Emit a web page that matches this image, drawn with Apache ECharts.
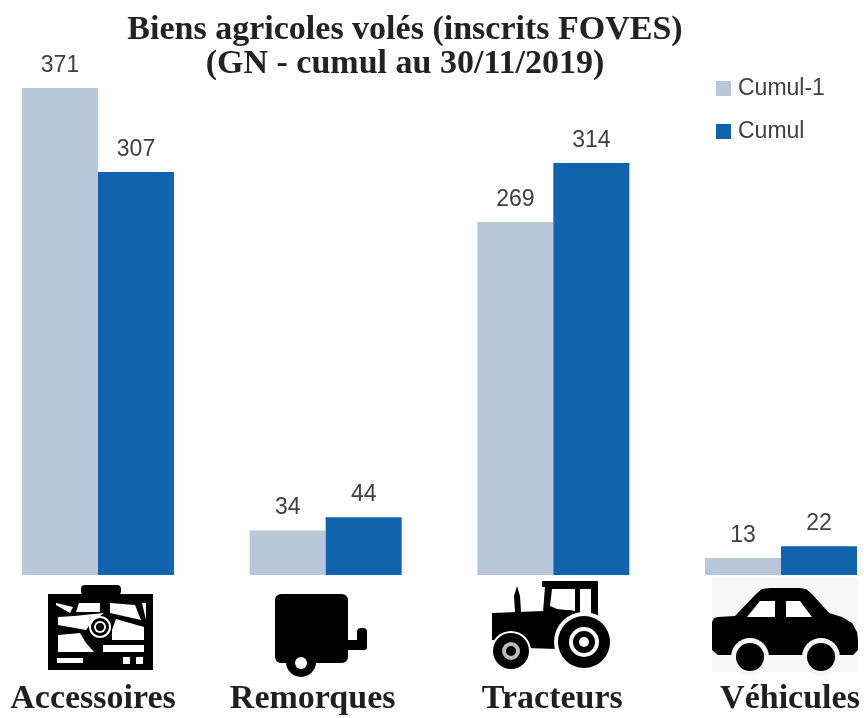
<!DOCTYPE html>
<html><head><meta charset="utf-8">
<style>html,body{margin:0;padding:0;background:#fff}#c{width:864px;height:718px;filter:blur(0.6px)}</style>
<script src="https://cdn.jsdelivr.net/npm/echarts@6/dist/echarts.min.js"></script>
</head><body><div id="c"></div>
<script>
const categories = ['Accessoires','Remorques','Tracteurs','Véhicules'];
const cumulPrev = [371,34,269,13];
const cumul = [307,44,314,22];
const titleLines = 'Biens agricoles volés (inscrits FOVES)\n(GN - cumul au 30/11/2019)';
const seriesNames = ['Cumul-1','Cumul'];
const labelPadding = [[0,10,0,0],[0,26,0,0],[0,2,0,0],[0,0,0,18]];
const K='#000', W='#fff', G='#f7f7f7';
const p=(points,fill)=>({type:'polygon',shape:{points},style:{fill:fill||K},silent:true});
const c=(cx,cy,r,fill)=>({type:'circle',shape:{cx,cy,r},style:{fill:fill||K},silent:true});
const r=(x,y,width,height,fill,rad)=>({type:'rect',shape:{x,y,width,height,r:rad||0},style:{fill:fill||K},silent:true});
const icons=[
 // map / GPS
 r(81,585,40,10,K,4), r(48,594,105,76),
 p([[56,603],[73,607],[70,613],[56,605]],W),
 p([[79,603],[100,603],[100,612],[76,612]],W),
 p([[110,603],[135,605],[141,620],[110,613]],W),
 p([[142,603],[146,603],[146,620]],W),
 p([[58,617],[74,616],[104,613],[92,622],[86,630],[58,625]],W),
 p([[116,619],[144,627],[144,640],[112,640],[112,630]],W),
 p([[58,635],[80,633],[86,643],[94,652],[58,652]],W),
 r(103,645,41,7,W),
 r(57,658,26,5,W), r(123,657,7,7,W), r(136,657,7,7,W),
 c(100,627,11,W), c(100,627,9,K), c(100,627,6,W), c(100,627,4,K),
 // trailer
 r(275,594,73,69,K,6), r(345,640,22,10,K,3), r(357,628,10,22,K,4),
 c(301,662,15), c(301,663,6,W),
 // tractor
 r(542,581,56,6,K,1),
 p([[545,587],[598,587],[598,615],[592,640],[548,640],[543,612]]),
 p([[552,589],[575,589],[575,611],[557,609],[550,606]],W),
 r(580,589,11,25,W),
 p([[515,612],[514,596],[517,586],[520,596],[521,612]]),
 p([[492,613],[570,610],[590,615],[590,650],[525,648],[505,641],[492,640]]),
 c(511,651,20,W), c(511,651,18), c(511,651,9,'#bbb'), c(511,651,5,K),
 c(584,642,30,W), c(584,642,26), c(584,642,15,W), c(584,642,11,K), c(584,642,5,W),
 // car
 r(712,578,146,94,G),
 p([[712,622],[714,618],[718,617],[735,616],[756,594],[762,589],[770,588],[799,588],[806,589],[812,594],[829,613],[842,617],[852,623],[857,632],[858,640],[858,650],[853,655],[718,655],[712,650]]),
 p([[747,617],[760,601],[775,601],[775,617]],W),
 p([[786,601],[800,601],[812,617],[786,617]],W),
 c(750,657,19,G), c(821,657,19,G),
 c(750,657,14), c(821,657,14),
];
const labelStyle={show:true,position:'top',distance:11,color:'#404040',fontFamily:'Liberation Sans',fontSize:23};
const chart=echarts.init(document.getElementById('c'));
chart.setOption({
 animation:false,
 backgroundColor:'#fff',
 title:{text:titleLines,left:400,top:8,textAlign:'center',
  textStyle:{fontFamily:'Liberation Serif',fontWeight:'bold',fontSize:34,lineHeight:34,color:'#222'}},
 legend:{orient:'vertical',left:711,top:72,itemWidth:15,itemHeight:15,itemGap:20,icon:'rect',
  itemStyle:{borderWidth:0},
  textStyle:{fontFamily:'Liberation Sans',fontSize:23,color:'#404040',padding:[0,0,0,2]},
  data:seriesNames},
 grid:{left:98,right:83,top:50,bottom:143},
 xAxis:{type:'category',boundaryGap:false,
  data:categories.map((value,i)=>({value,textStyle:{padding:labelPadding[i]}})),
  axisLine:{show:false},axisTick:{show:false},
  axisLabel:{margin:107,interval:0,fontFamily:'Liberation Serif',fontWeight:'bold',fontSize:34,color:'#1f1f1f'}},
 yAxis:{type:'value',min:0,max:400,show:false,splitLine:{show:false}},
 series:[
  {name:seriesNames[0],type:'bar',clip:false,data:cumulPrev,barWidth:76,barGap:'0%',itemStyle:{color:'#b8c7d9'},label:labelStyle},
  {name:seriesNames[1],type:'bar',clip:false,data:cumul,barWidth:76,itemStyle:{color:'#1163ae'},label:labelStyle}
 ],
 graphic:{elements:icons}
});
</script></body></html>
